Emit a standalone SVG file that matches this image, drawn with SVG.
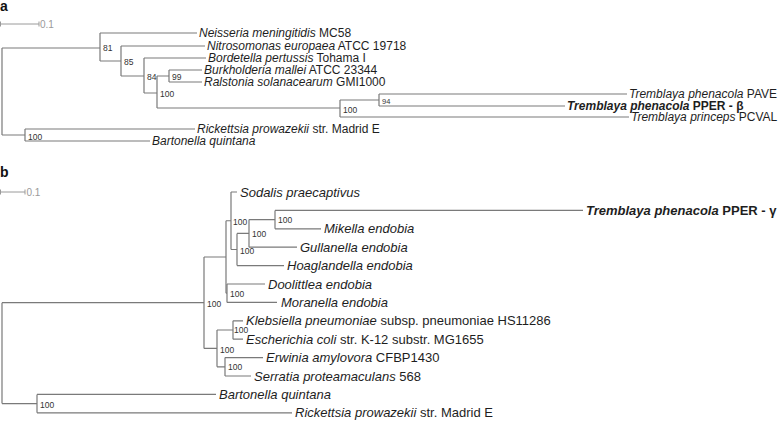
<svg xmlns="http://www.w3.org/2000/svg" width="778" height="421" viewBox="0 0 778 421">
<style>
.br{stroke:#7a7a7a;stroke-width:1.2;fill:none}
.sc{stroke:#9a9a9a;stroke-width:1;fill:none}
.sct{font-family:"Liberation Sans",Arial,sans-serif;font-size:10px;fill:#9a9a9a}
.pl{font-family:"Liberation Sans",Arial,sans-serif;font-size:14px;font-weight:bold;fill:#111}
.ta{font-family:"Liberation Sans",Arial,sans-serif;font-size:12px;fill:#1e1e1e}
.tb{font-family:"Liberation Sans",Arial,sans-serif;font-size:13px;fill:#1e1e1e}
.i{font-style:italic}
.bd{font-weight:bold}
.bs{font-family:"Liberation Sans",Arial,sans-serif;font-size:8.5px;fill:#333}
</style>
<rect width="778" height="421" fill="#fff"/>

<!-- panel a -->
<g id="panel-a-label"><text class="pl" x="0" y="11">a</text></g>
<g id="scale-a">
<path class="sc" d="M0.5,24H39M0.5,21.5V26.5M39,21.5V26.5"/>
<text class="sct" x="40" y="27.5">0.1</text>
</g>

<g id="connectors">
<!-- tree a -->
<path class="br" d="M2,48V135M2,48H100M2,135H25"/>
<path class="br" d="M100,33V61M100,33H197M100,61H121"/>
<path class="br" d="M121,46V76M121,46H205M121,76H144"/>
<path class="br" d="M144,58V93M144,58H206M144,93H157"/>
<path class="br" d="M157,76V108M157,76H169M157,108H340"/>
<path class="br" d="M169,70V82M169,70H202M169,82H202"/>
<path class="br" d="M340,100V117M340,100H379M340,117H629"/>
<path class="br" d="M379,94V106M379,94H627M379,106H565"/>
<path class="br" d="M25,129V141M25,129H195M25,141H150"/>
<!-- tree b -->
<path class="br" d="M2,302.7V403.6M2,302.7H204M2,403.6H37"/>
<path class="br" d="M204,257V348.4M204,257H226M204,348.4H217"/>
<path class="br" d="M226,220.75V293.2M226,220.75H231M226,293.2H227"/>
<path class="br" d="M231,192V249.5M231,192H237M231,249.5H237"/>
<path class="br" d="M237,233.4V265.6M237,233.4H249M237,265.6H284"/>
<path class="br" d="M249,219.6V247.2M249,219.6H275M249,247.2H297"/>
<path class="br" d="M275,210.4V228.8M275,210.4H583M275,228.8H321"/>
<path class="br" d="M227,284V302.4M227,284H265M227,302.4H277"/>
<path class="br" d="M217,330V366.8M217,330H233M217,366.8H225"/>
<path class="br" d="M233,320.8V339.2M233,320.8H243M233,339.2H243"/>
<path class="br" d="M225,357.6V376M225,357.6H263M225,376H251"/>
<path class="br" d="M37,394.4V412.8M37,394.4H216M37,412.8H292"/>
</g>

<g id="bootstrap-a">
<text class="bs" x="103" y="51">81</text>
<text class="bs" x="124" y="65">85</text>
<text class="bs" x="147" y="80">84</text>
<text class="bs" x="172" y="80">99</text>
<text class="bs" x="160" y="97">100</text>
<text class="bs" x="343" y="113">100</text>
<text class="bs" x="382" y="103.5" style="font-size:7.5px">94</text>
<text class="bs" x="28" y="140">100</text>
</g>

<g id="a-neisseria"><text class="ta" x="199" y="37.2"><tspan class="i">Neisseria meningitidis</tspan> MC58</text></g>
<g id="a-nitrosomonas"><text class="ta" x="207" y="50.2"><tspan class="i">Nitrosomonas europaea</tspan> ATCC 19718</text></g>
<g id="a-bordetella"><text class="ta" x="208" y="62.2"><tspan class="i">Bordetella pertussis</tspan> Tohama I</text></g>
<g id="a-burkholderia"><text class="ta" x="204" y="74.2"><tspan class="i">Burkholderia mallei</tspan> ATCC 23344</text></g>
<g id="a-ralstonia"><text class="ta" x="204" y="86.2"><tspan class="i">Ralstonia solanacearum</tspan> GMI1000</text></g>
<g id="a-tremblaya-pave"><text class="ta" x="629" y="98.2"><tspan class="i">Tremblaya phenacola</tspan> PAVE</text></g>
<g id="a-tremblaya-pper"><text class="ta bd" x="567" y="110.2"><tspan class="i">Tremblaya phenacola</tspan> PPER - β</text></g>
<g id="a-tremblaya-princeps"><text class="ta" x="631" y="121.2"><tspan class="i">Tremblaya princeps</tspan> PCVAL</text></g>
<g id="a-rickettsia"><text class="ta" x="197" y="133.2"><tspan class="i">Rickettsia prowazekii</tspan> str. Madrid E</text></g>
<g id="a-bartonella"><text class="ta" x="152" y="145.2"><tspan class="i">Bartonella quintana</tspan></text></g>

<!-- panel b -->
<g id="panel-b-label"><text class="pl" x="0" y="177">b</text></g>
<g id="scale-b">
<path class="sc" d="M0.5,192H25M0.5,189.5V194.5M25,189.5V194.5"/>
<text class="sct" x="26.5" y="195.5">0.1</text>
</g>

<g id="bootstrap-b">
<text class="bs" x="278" y="223">100</text>
<text class="bs" x="252" y="237">100</text>
<text class="bs" x="240" y="254">100</text>
<text class="bs" x="233" y="225">100</text>
<text class="bs" x="230" y="297">100</text>
<text class="bs" x="207" y="307">100</text>
<text class="bs" x="234" y="333">100</text>
<text class="bs" x="220" y="353">100</text>
<text class="bs" x="228" y="370">100</text>
<text class="bs" x="40" y="408">100</text>
</g>

<g id="b-sodalis"><text class="tb" x="240" y="196.6"><tspan class="i">Sodalis praecaptivus</tspan></text></g>
<g id="b-tremblaya-pper"><text class="tb bd" x="586" y="215"><tspan class="i">Tremblaya phenacola</tspan> PPER - γ</text></g>
<g id="b-mikella"><text class="tb" x="324" y="233.4"><tspan class="i">Mikella endobia</tspan></text></g>
<g id="b-gullanella"><text class="tb" x="300" y="251.8"><tspan class="i">Gullanella endobia</tspan></text></g>
<g id="b-hoaglandella"><text class="tb" x="287" y="270.2"><tspan class="i">Hoaglandella endobia</tspan></text></g>
<g id="b-doolittlea"><text class="tb" x="268" y="288.6"><tspan class="i">Doolittlea endobia</tspan></text></g>
<g id="b-moranella"><text class="tb" x="281" y="307"><tspan class="i">Moranella endobia</tspan></text></g>
<g id="b-klebsiella"><text class="tb" x="246" y="325.4"><tspan class="i">Klebsiella pneumoniae</tspan> subsp. pneumoniae HS11286</text></g>
<g id="b-escherichia"><text class="tb" x="246" y="343.8"><tspan class="i">Escherichia coli</tspan> str. K-12 substr. MG1655</text></g>
<g id="b-erwinia"><text class="tb" x="266" y="362.2"><tspan class="i">Erwinia amylovora</tspan> CFBP1430</text></g>
<g id="b-serratia"><text class="tb" x="254" y="380.6"><tspan class="i">Serratia proteamaculans</tspan> 568</text></g>
<g id="b-bartonella"><text class="tb" x="219" y="399"><tspan class="i">Bartonella quintana</tspan></text></g>
<g id="b-rickettsia"><text class="tb" x="295" y="417.4"><tspan class="i">Rickettsia prowazekii</tspan> str. Madrid E</text></g>
</svg>
